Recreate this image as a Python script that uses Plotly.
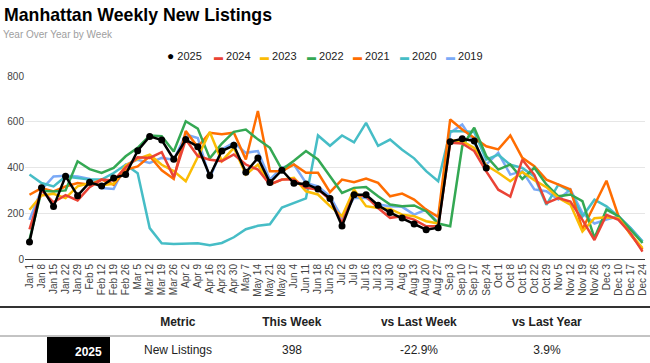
import plotly.graph_objects as go

# ---------------- DATA ----------------
weeks = ["Jan 1", "Jan 8", "Jan 15", "Jan 22", "Jan 29", "Feb 5", "Feb 12", "Feb 19", "Feb 26",
         "Mar 5", "Mar 12", "Mar 19", "Mar 26", "Apr 2", "Apr 9", "Apr 16", "Apr 23", "Apr 30",
         "May 7", "May 14", "May 21", "May 28", "Jun 4", "Jun 11", "Jun 18", "Jun 25",
         "Jul 2", "Jul 9", "Jul 16", "Jul 23", "Jul 30", "Aug 6", "Aug 13", "Aug 20", "Aug 27",
         "Sep 3", "Sep 10", "Sep 17", "Sep 24", "Oct 1", "Oct 8", "Oct 15", "Oct 22", "Oct 29",
         "Nov 5", "Nov 12", "Nov 19", "Nov 26", "Dec 3", "Dec 10", "Dec 17", "Dec 24"]

y2025 = [74, 312, 229, 362, 277, 335, 319, 354, 369, 473, 536, 520, 436, 522, 491, 364, 472, 497,
         379, 442, 334, 388, 331, 328, 306, 264, 144, 281, 281, 235, 203, 179, 153, 128, 137,
         513, 526, 516, 398]

y2024 = [130, 300, 248, 279, 256, 314, 347, 343, 400, 445, 442, 467, 358, 522, 450, 434, 428, 457,
         413, 391, 326, 347, 347, 311, 304, 260, 158, 282, 274, 223, 180, 187, 172, 143, 143,
         508, 505, 472, 383, 303, 273, 434, 368, 244, 266, 251, 171, 83, 193, 171, 113, 32]

y2023 = [215, 278, 285, 266, 318, 332, 322, 329, 409, 438, 456, 412, 384, 340, 446, 555, 428, 486,
         369, 413, 326, 347, 355, 296, 282, 231, 187, 304, 231, 223, 219, 194, 187, 165, 155,
         520, 515, 486, 410, 377, 340, 380, 345, 314, 267, 238, 120, 178, 183, 178, 110, 48]

y2022 = [85, 298, 295, 300, 427, 393, 376, 398, 449, 486, 540, 537, 470, 602, 570, 440, 505, 556,
         566, 523, 486, 391, 430, 472, 435, 360, 289, 311, 315, 274, 238, 231, 234, 209, 155,
         143, 493, 574, 450, 391, 413, 350, 399, 326, 274, 282, 253, 92, 216, 187, 128, 70]

y2021 = [281, 310, 295, 317, 332, 325, 347, 325, 390, 405, 449, 388, 350, 559, 490, 552, 545, 552,
         435, 647, 384, 384, 413, 377, 377, 292, 347, 336, 352, 333, 274, 286, 260, 216, 184,
         610, 566, 530, 493, 479, 540, 442, 406, 347, 326, 304, 130, 235, 342, 187, 107, 41]

y2020 = [369, 332, 317, 361, 354, 347, 347, 376, 412, 375, 135, 69, 66, 66, 69, 60, 70, 95,
         130, 145, 152, 225, 245, 265, 540, 495, 540, 510, 595, 495, 522, 478, 440, 384, 340,
         559, 559, 555, 434, 456, 412, 398, 361, 237, 325, 295, 186, 259, 230, 186, 135, 76]

y2019 = [171, 303, 361, 364, 361, 350, 310, 306, 412, 434, 420, 442, 434, 544, 529, 354, 479, 508,
         464, 472, 347, 399, 413, 333, 318, 274, 180, 267, 267, 238, 231, 228, 194, 216, 158,
         552, 588, 508, 413, 464, 369, 384, 304, 296, 260, 304, 201, 155, 172, 187, 136, 77]

series_names = ["2025", "2024", "2023", "2022", "2021", "2020", "2019"]
series_values = [y2025, y2024, y2023, y2022, y2021, y2020, y2019]
series_colors = ["#000000", "#EA4335", "#FBBC04", "#34A853", "#FF6D01", "#46BDC6", "#7BAAF7"]

y_ticks = [0, 200, 400, 600, 800]

table_header = ["Metric", "This Week", "vs Last Week", "vs Last Year"]
metric_name = "New Listings"

# ---------------- FIGURE ----------------
W, H = 650, 363
FONT = "Arial, Liberation Sans, sans-serif"

fig = go.Figure()

# draw older years first so 2025 ends on top
for name, vals, color in reversed(list(zip(series_names, series_values, series_colors))):
    is_current = name == series_names[0]
    fig.add_trace(go.Scatter(
        x=weeks[:len(vals)], y=vals, name=name,
        mode="lines+markers" if is_current else "lines",
        line=dict(color=color, width=2.5),
        marker=dict(size=7, color=color),
        showlegend=False,
        xaxis="x", yaxis="y",
    ))

# Summary table computed from the data
cur = y2025[-1]
prev_week = y2025[-2]
last_year = y2024[len(y2025) - 1]
wow = (cur / prev_week - 1) * 100
yoy = (cur / last_year - 1) * 100

col_widths = [47, 63, 136, 92, 162, 94, 56]
header_vals = ["", ""] + ["<b>%s</b>" % h for h in table_header] + [""]
cell_vals = [[""], ["<b>%s</b>" % series_names[0]], [metric_name], [str(cur)],
             ["%.1f%%" % wow], ["%.1f%%" % yoy], [""]]
cell_fill = [["white"], ["black"], ["white"], ["white"], ["white"], ["white"], ["white"]]
cell_font_colors = [["#222"], ["white"], ["#222"], ["#222"], ["#222"], ["#222"], ["#222"]]

table_top_px = 307
fig.add_trace(go.Table(
    domain=dict(x=[0, 1], y=[0, 1 - table_top_px / H]),
    columnwidth=col_widths,
    header=dict(values=header_vals, fill_color="white", line=dict(color="white", width=0),
                align="center", height=29, font=dict(family=FONT, size=12, color="#222")),
    cells=dict(values=cell_vals, fill_color=cell_fill, line=dict(color="white", width=0),
               align=["center", "right", "center", "center", "center", "center", "center"],
               height=27, font=dict(family=FONT, size=12, color=cell_font_colors)),
))

# legend built as text items
legend_y = 1 - 56 / H
legend_start = 165
legend_step = 46.5
annotations = []
for k, (name, color) in enumerate(zip(series_names, series_colors)):
    if k == 0:
        sym = "<span style='color:%s;font-size:12px'>●</span>" % color
    else:
        sym = "<span style='color:%s;font-size:9px'>▬</span>" % color
    annotations.append(dict(
        text=sym + " " + name, x=(legend_start + k * legend_step) / W, y=legend_y,
        xref="paper", yref="paper", xanchor="left", yanchor="middle", showarrow=False,
        font=dict(family=FONT, size=11, color="#222"),
    ))

annotations.append(dict(
    text="<b>Manhattan Weekly New Listings</b>", x=2 / W, y=1 - 15 / H, xref="paper", yref="paper",
    xanchor="left", yanchor="middle", showarrow=False,
    font=dict(family=FONT, size=17.7, color="#000"),
))
annotations.append(dict(
    text="Year Over Year by Week", x=1 / W, y=1 - 34 / H, xref="paper", yref="paper",
    xanchor="left", yanchor="middle", showarrow=False,
    font=dict(family=FONT, size=10, color="#9e9e9e"),
))

plot_left, plot_right = 25, 645
y_top_px, y_bot_px = 76, 259
step_px = 12.02
x0 = -(29.5 - plot_left) / step_px
x1 = x0 + (plot_right - plot_left) / step_px

shapes = [
    dict(type="line", xref="paper", yref="paper", x0=0, x1=1,
         y0=1 - 307 / H, y1=1 - 307 / H, line=dict(color="#333", width=2)),
    dict(type="line", xref="paper", yref="paper", x0=0, x1=1,
         y0=1 - 336 / H, y1=1 - 336 / H, line=dict(color="#888", width=1)),
]

fig.update_layout(
    width=W, height=H,
    margin=dict(l=0, r=0, t=0, b=0, autoexpand=False),
    paper_bgcolor="white", plot_bgcolor="white",
    font=dict(family=FONT, color="#444"),
    showlegend=False,
    annotations=annotations,
    shapes=shapes,
    xaxis=dict(domain=[plot_left / W, plot_right / W], range=[x0, x1], type="category",
               tickangle=-90, tickfont=dict(size=10, color="#444"), showgrid=False,
               showline=True, linecolor="#333", linewidth=1, ticks="", fixedrange=True,
               automargin=False),
    yaxis=dict(domain=[1 - y_bot_px / H, 1 - y_top_px / H], range=[0, 800], tickvals=y_ticks,
               tickfont=dict(size=10, color="#444"), showgrid=True, gridcolor="#e6e6e6",
               gridwidth=1, zeroline=False, ticks="", fixedrange=True, automargin=False),
)

fig.write_html("out.html", config={"displayModeBar": False},
               post_script="document.body.style.margin='0';")
